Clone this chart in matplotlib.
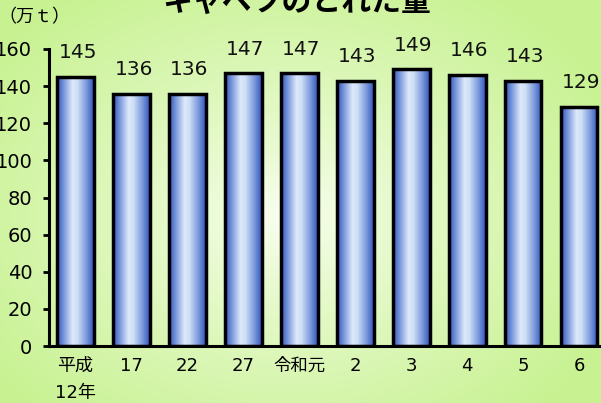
import numpy as np
import matplotlib
matplotlib.use("Agg")
import matplotlib.pyplot as plt
from matplotlib.colors import LinearSegmentedColormap

plt.rcParams['font.family'] = ['DejaVu Sans', 'Noto Sans CJK JP']

categories = ["平成\n12年", "17", "22", "27", "令和元", "2", "3", "4", "5", "6"]
values = [145, 136, 136, 147, 147, 143, 149, 146, 143, 129]
y_ticks = [0, 20, 40, 60, 80, 100, 120, 140, 160]
title = "キャベツのとれた量"
unit_label = "（万ｔ）"

W, H = 601, 403
fig = plt.figure(figsize=(W / 100, H / 100), dpi=100)

# background radial gradient
bg = fig.add_axes([0, 0, 1, 1])
yy, xx = np.mgrid[0:H, 0:W]
cx, cy = 285, 215
r = np.sqrt(((xx - cx) / 360.0) ** 2 + ((yy - cy) / 270.0) ** 2)
r = np.clip(r, 0, 1) ** 0.8
c_in = np.array([0xfa, 0xff, 0xf2]) / 255.0
c_out = np.array([0xc8, 0xf2, 0x92]) / 255.0
img = c_in[None, None, :] * (1 - r[..., None]) + c_out[None, None, :] * r[..., None]
bg.imshow(img, aspect='auto', extent=[0, W, H, 0], interpolation='bilinear')
bg.set_xlim(0, W)
bg.set_ylim(H, 0)
bg.axis('off')

# main axes
left_px, right_px = 49, 601
bottom_px, top_px = 346, 49
ax = fig.add_axes([left_px / W, (H - bottom_px) / H,
                   (right_px - left_px) / W, (bottom_px - top_px) / H])
ax.patch.set_alpha(0)

x = np.arange(len(categories))
bar_w = 0.66
bars = ax.bar(x, values, width=bar_w, facecolor='none', edgecolor='black',
              linewidth=2.5, zorder=3)

bar_cmap = LinearSegmentedColormap.from_list(
    "barg", [(0.0, "#2b52c0"), (0.18, "#7896da"), (0.42, "#dde9fa"),
             (0.55, "#d0e0f6"), (0.8, "#7a98da"), (1.0, "#3055c2")])
grad = np.linspace(0, 1, 256)[None, :]
for b in bars:
    x0 = b.get_x()
    w = b.get_width()
    h = b.get_height()
    im = ax.imshow(grad, cmap=bar_cmap, aspect='auto',
                   extent=[x0, x0 + w, 0, h], zorder=2, interpolation='bilinear')
    im.set_clip_path(b)

for xi, v in zip(x, values):
    ax.annotate(str(v), (xi, v), xytext=(1.5, 10.5), textcoords='offset points',
                ha='center', va='bottom', fontsize=14.5, color='#111111')

ax.set_xlim(-0.474, 9.394)
ax.set_ylim(0, 160)
ax.set_yticks(y_ticks)
ax.set_yticklabels([str(t) for t in y_ticks], fontsize=14)
ax.set_xticks(x)
ax.set_xticklabels(categories, fontsize=13, linespacing=1.65)
for lab in ax.get_xticklabels():
    if lab.get_text() == "令和元":
        lab.set_fontsize(12.5)
ax.tick_params(axis='x', length=0, pad=8)
ax.tick_params(axis='y', length=4, width=2, direction='out', pad=8)
for s in ['top', 'right']:
    ax.spines[s].set_visible(False)
ax.spines['left'].set_linewidth(2.2)
ax.spines['bottom'].set_linewidth(2.2)

fig.text(297 / W, 1 - 2 / H, title, ha='center', va='center', fontsize=21.5,
         fontweight='bold', family=['Noto Sans CJK JP'])
fig.text(-2 / W, 1 - 17 / H, unit_label, ha='left', va='center', fontsize=13,
         family=['Noto Sans CJK JP'])

fig.savefig("out.png", dpi=100)
